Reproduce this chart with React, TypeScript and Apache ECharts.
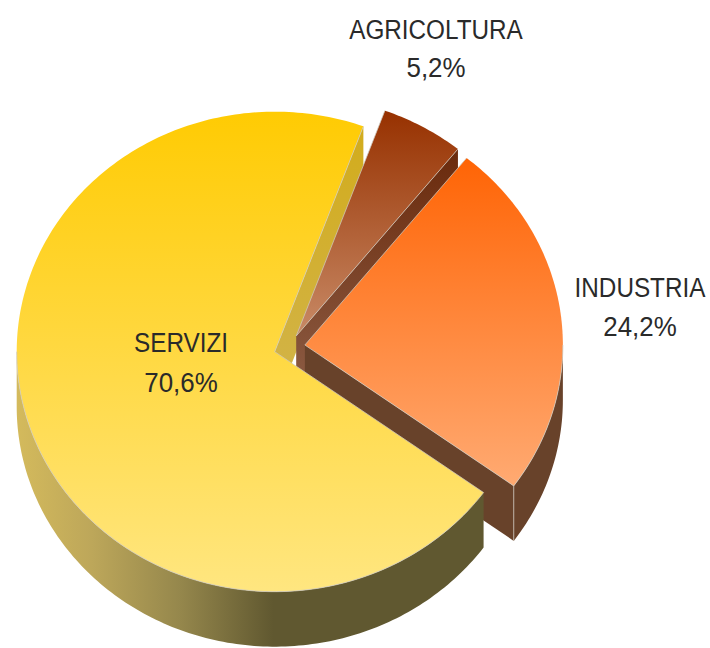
import React, { useEffect, useRef } from "react";
import * as echarts from "echarts";

const categories = ["AGRICOLTURA", "INDUSTRIA", "SERVIZI"];
const shares = [5.2, 24.2, 70.6];

const FIRST_ANGLE = 20.1;
const CENTER = [290, 347];
const RX = 258;
const RY = 240;
const DEPTH = 55;
const explosions = [12.6, 15, 16];
const labelCentres = [
  [436, 30, 68],
  [640, 288, 327],
  [181, 343, 383],
];
const topColours = [
  ["#973100", "#C88A66"],
  ["#FF6405", "#FFAA72"],
  ["#FFCB03", "#FFE680"],
];
const edgeWallColours = [
  ["#6A2A0C", "#8C5C44"],
  ["#68422A", "#68422A"],
  ["#D2AC1C", "#D2B44C"],
];
const outerWallStops = [
  [0, "#D4BA5C"],
  [0.16, "#BDA75A"],
  [0.35, "#95874C"],
  [0.55, "#605830"],
  [1, "#605830"],
];
const FONT = '27px "Liberation Sans", sans-serif';
const NAME_SQUEEZE = 0.9;
const VALUE_SQUEEZE = 0.96;
const wallEdge = "rgba(205,200,190,0.75)";

const total = shares.reduce((a, b) => a + b, 0);
const startAngles = shares.map(
  (_, i) => FIRST_ANGLE + (shares.slice(0, i).reduce((a, b) => a + b, 0) / total) * 360
);
const endAngles = shares.map((s, i) => startAngles[i] + (s / total) * 360);

const rad = (deg: number) => (deg * Math.PI) / 180;

function apex(i: number) {
  const mid = rad((startAngles[i] + endAngles[i]) / 2);
  return [CENTER[0] + explosions[i] * Math.sin(mid), CENTER[1] - explosions[i] * Math.cos(mid)];
}

function rim(i: number, deg: number) {
  const a = apex(i);
  return [a[0] + RX * Math.sin(rad(deg)), a[1] - RY * Math.cos(rad(deg))];
}

function arc(i: number, from: number, to: number) {
  const steps = Math.max(2, Math.ceil(to - from));
  const pts: number[][] = [];
  for (let k = 0; k <= steps; k++) pts.push(rim(i, from + ((to - from) * k) / steps));
  return pts;
}

const down = (p: number[]) => [p[0], p[1] + DEPTH];

function verticalGradient(pts: number[][], colours: string[]) {
  const ys = pts.map((p) => p[1]);
  return {
    type: "linear",
    global: true,
    x: 0,
    y: Math.min(...ys),
    x2: 0,
    y2: Math.max(...ys),
    colorStops: [
      { offset: 0, color: colours[0] },
      { offset: 1, color: colours[1] },
    ],
  };
}

function renderEdgeWall(_: any, api: any) {
  const i = api.value(0);
  const a = apex(i);
  const e = rim(i, endAngles[i]);
  const pts = [a, e, down(e), down(a)];
  return {
    type: "polygon",
    shape: { points: pts },
    style: { fill: verticalGradient(pts, edgeWallColours[i]) },
  };
}

function renderSlice(_: any, api: any) {
  const i = api.value(0);
  const children: any[] = [];
  const from = Math.max(startAngles[i], 90);
  const to = Math.min(endAngles[i], 270);
  const hasOuterWall = to > from;
  if (hasOuterWall) {
    const outer = arc(i, from, to);
    const pts = [...outer, ...outer.slice().reverse().map(down)];
    const xs = pts.map((p) => p[0]);
    const isServizi = i === 2;
    children.push({
      type: "polygon",
      shape: { points: pts },
      style: {
        fill: isServizi
          ? {
              type: "linear",
              global: true,
              x: Math.min(...xs),
              y: 0,
              x2: Math.max(...xs),
              y2: 0,
              colorStops: outerWallStops.map(([offset, color]) => ({ offset, color })),
            }
          : edgeWallColours[i][0],
      },
    });
    if (!isServizi) {
      const s = rim(i, to);
      children.push({
        type: "line",
        shape: { x1: s[0], y1: s[1], x2: s[0], y2: s[1] + DEPTH },
        style: { stroke: wallEdge, lineWidth: 1 },
      });
    }
  }
  const top = [apex(i), ...arc(i, startAngles[i], endAngles[i])];
  children.push({
    type: "polygon",
    shape: { points: top },
    style: { fill: verticalGradient(top, topColours[i]) },
  });
  // light seam only where the top face meets a wall or another slice
  children.push({
    type: "polyline",
    shape: { points: [rim(i, startAngles[i]), apex(i), rim(i, endAngles[i])] },
    style: { stroke: wallEdge, lineWidth: 1, fill: "none" },
  });
  if (hasOuterWall) {
    children.push({
      type: "polyline",
      shape: { points: arc(i, from, to) },
      style: { stroke: wallEdge, lineWidth: 1, fill: "none" },
    });
  }
  const [lx, ly1, ly2] = labelCentres[i];
  const label = (text: string, y: number, squeeze: number) => ({
    type: "text",
    x: lx,
    y,
    scaleX: squeeze,
    style: { text, x: 0, y: 0, align: "center", verticalAlign: "middle", font: FONT, fill: "#2a2a2a" },
  });
  children.push(label(categories[i], ly1, NAME_SQUEEZE));
  children.push(label(shares[i].toFixed(1).replace(".", ",") + "%", ly2, VALUE_SQUEEZE));
  return { type: "group", children };
}

export default function App() {
  const ref = useRef<HTMLDivElement>(null);
  useEffect(() => {
    document.body.style.margin = "0";
    const chart = echarts.init(ref.current!, null, { renderer: "svg" });
    chart.setOption({
      animation: false,
      backgroundColor: "#ffffff",
      series: [
        {
          type: "custom",
          coordinateSystem: "none",
          silent: true,
          data: [[2], [0], [1]],
          renderItem: renderEdgeWall,
        },
        {
          type: "custom",
          coordinateSystem: "none",
          silent: true,
          data: [[0], [1], [2]],
          renderItem: renderSlice,
        },
      ],
    });
    return () => chart.dispose();
  }, []);
  return <div ref={ref} style={{ width: 710, height: 648 }} />;
}
